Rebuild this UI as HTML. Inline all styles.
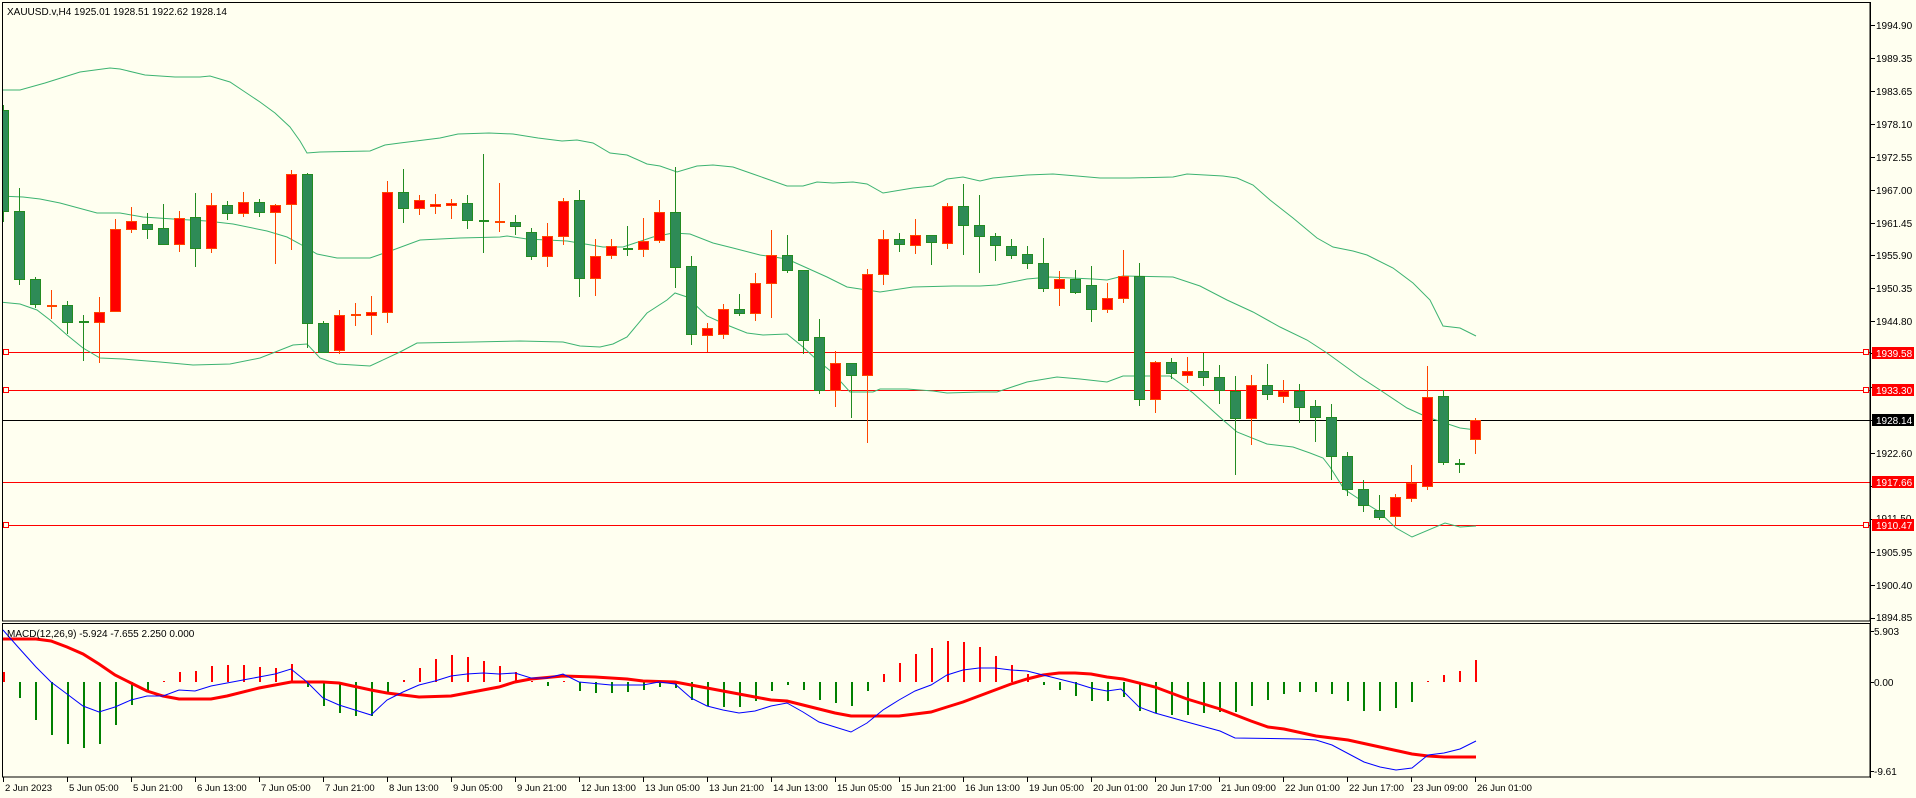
<!DOCTYPE html>
<html><head><meta charset="utf-8">
<style>
html,body{margin:0;padding:0;background:#fffff0;}
svg{display:block;}
text{font-family:"Liberation Sans",Arial,sans-serif;font-size:10px;fill:#000;}
</style></head>
<body>
<svg id="s" width="1916" height="798" viewBox="0 0 1916 798" xmlns="http://www.w3.org/2000/svg" shape-rendering="crispEdges">
<rect x="0" y="0" width="1916" height="798" fill="#fffff0"/>
<defs>
<clipPath id="cm"><rect x="2" y="3" width="1868" height="618"/></clipPath>
<clipPath id="cd"><rect x="2" y="623" width="1868" height="154"/></clipPath>
</defs>
<g id="main" clip-path="url(#cm)"></g>
<g id="macd" clip-path="url(#cd)"></g>
<!-- frames -->
<rect x="2.5" y="2.5" width="1867.5" height="618.5" fill="none" stroke="#000" stroke-width="1"/>
<rect x="2.5" y="623.5" width="1867.5" height="153.5" fill="none" stroke="#000" stroke-width="1"/>
<g id="axis"></g>
<text x="7" y="15">XAUUSD.v,H4  1925.01 1928.51 1922.62 1928.14</text>
<text x="7" y="637">MACD(12,26,9) -5.924 -7.655 2.250 0.000</text>
<!-- price labels -->
<g>
<text x="1876" y="29">1994.90</text>
<text x="1876" y="62">1989.35</text>
<text x="1876" y="95">1983.65</text>
<text x="1876" y="128">1978.10</text>
<text x="1876" y="161">1972.55</text>
<text x="1876" y="194">1967.00</text>
<text x="1876" y="227">1961.45</text>
<text x="1876" y="259">1955.90</text>
<text x="1876" y="292">1950.35</text>
<text x="1876" y="325">1944.80</text>
<text x="1876" y="457">1922.60</text>
<text x="1876" y="522">1911.50</text>
<text x="1876" y="556">1905.95</text>
<text x="1876" y="589">1900.40</text>
<text x="1876" y="621">1894.85</text>
<text x="1874" y="635">5.903</text>
<text x="1874" y="686">0.00</text>
<text x="1874" y="775">-9.61</text>
</g>
<g>
<rect x="1872" y="347" width="42" height="12" fill="#ff0000"/><text x="1876" y="357" style="fill:#fff">1939.58</text>
<rect x="1872" y="384" width="42" height="12" fill="#ff0000"/><text x="1876" y="394" style="fill:#fff">1933.30</text>
<rect x="1872" y="414" width="42" height="12" fill="#000"/><text x="1876" y="424" style="fill:#fff">1928.14</text>
<rect x="1872" y="476" width="42" height="12" fill="#ff0000"/><text x="1876" y="486" style="fill:#fff">1917.66</text>
<rect x="1872" y="519" width="42" height="12" fill="#ff0000"/><text x="1876" y="529" style="fill:#fff">1910.47</text>
</g>
<g font-size="9.5">
<text x="5" y="791" style="font-size:9.5px">2 Jun 2023</text>
<text x="69" y="791" style="font-size:9.5px">5 Jun 05:00</text>
<text x="133" y="791" style="font-size:9.5px">5 Jun 21:00</text>
<text x="197" y="791" style="font-size:9.5px">6 Jun 13:00</text>
<text x="261" y="791" style="font-size:9.5px">7 Jun 05:00</text>
<text x="325" y="791" style="font-size:9.5px">7 Jun 21:00</text>
<text x="389" y="791" style="font-size:9.5px">8 Jun 13:00</text>
<text x="453" y="791" style="font-size:9.5px">9 Jun 05:00</text>
<text x="517" y="791" style="font-size:9.5px">9 Jun 21:00</text>
<text x="581" y="791" style="font-size:9.5px">12 Jun 13:00</text>
<text x="645" y="791" style="font-size:9.5px">13 Jun 05:00</text>
<text x="709" y="791" style="font-size:9.5px">13 Jun 21:00</text>
<text x="773" y="791" style="font-size:9.5px">14 Jun 13:00</text>
<text x="837" y="791" style="font-size:9.5px">15 Jun 05:00</text>
<text x="901" y="791" style="font-size:9.5px">15 Jun 21:00</text>
<text x="965" y="791" style="font-size:9.5px">16 Jun 13:00</text>
<text x="1029" y="791" style="font-size:9.5px">19 Jun 05:00</text>
<text x="1093" y="791" style="font-size:9.5px">20 Jun 01:00</text>
<text x="1157" y="791" style="font-size:9.5px">20 Jun 17:00</text>
<text x="1221" y="791" style="font-size:9.5px">21 Jun 09:00</text>
<text x="1285" y="791" style="font-size:9.5px">22 Jun 01:00</text>
<text x="1349" y="791" style="font-size:9.5px">22 Jun 17:00</text>
<text x="1413" y="791" style="font-size:9.5px">23 Jun 09:00</text>
<text x="1477" y="791" style="font-size:9.5px">26 Jun 01:00</text>
</g>
</svg>
<script>
(function(){
var NS="http://www.w3.org/2000/svg";
function el(p,n,a){var e=document.createElementNS(NS,n);for(var k in a)e.setAttribute(k,a[k]);p.appendChild(e);return e;}
var M=document.getElementById('main'),D=document.getElementById('macd'),A=document.getElementById('axis');
function pl(p,pts,c,w){el(p,'polyline',{points:pts.map(function(q){return q[0]+','+q[1]}).join(' '),fill:'none',stroke:c,'stroke-width':w,'shape-rendering':'auto'});}
var up=[[3,90],[20,90],[45,83],[80,72],[110,68],[120,69],[145,75],[175,77],[200,77],[210,76],[230,82],[245,92],[260,102],[275,113],[290,127],[300,141],[307,153],[320,152],[370,151],[385,145],[400,143],[440,138],[458,134],[489,133],[513,134],[538,138],[562,141],[577,140],[593,143],[610,153],[627,155],[647,164],[660,166],[677,172],[697,166],[713,165],[733,167],[753,174],[787,186],[803,186],[817,182],[833,183],[853,182],[867,184],[883,193],[913,188],[933,186],[947,179],[963,177],[980,181],[993,178],[1027,175],[1053,174],[1077,176],[1100,178],[1130,178],[1173,177],[1187,174],[1223,176],[1237,178],[1253,185],[1270,200],[1293,218],[1317,238],[1333,247],[1353,251],[1367,255],[1393,268],[1413,283],[1430,300],[1443,326],[1460,328],[1476,336]];
var mid=[[0,196],[23,197],[40,199],[60,203],[97,213],[120,213],[143,217],[173,219],[207,221],[233,224],[267,231],[287,237],[300,244],[317,254],[337,258],[370,258],[393,250],[420,240],[460,238],[500,237],[507,236],[527,239],[567,241],[603,247],[623,247],[653,237],[673,233],[690,234],[713,243],[733,248],[760,255],[787,259],[807,268],[827,277],[847,287],[880,292],[913,287],[953,286],[980,286],[997,285],[1027,279],[1050,277],[1093,279],[1107,280],[1123,276],[1173,277],[1200,286],[1227,300],[1253,312],[1280,327],[1307,340],[1327,353],[1360,377],[1380,390],[1407,408],[1427,417],[1460,428],[1476,430]];
var lo=[[0,302],[20,304],[37,310],[50,320],[67,335],[83,348],[100,358],[123,359],[160,362],[193,365],[230,364],[260,358],[293,345],[307,344],[320,358],[337,364],[370,366],[400,352],[417,343],[473,342],[520,341],[563,342],[580,346],[600,347],[613,344],[627,337],[647,313],[667,300],[675,293],[687,297],[707,316],[727,325],[747,333],[763,335],[787,334],[803,347],[817,360],[833,373],[850,392],[873,392],[880,389],[907,389],[933,391],[947,393],[980,392],[997,392],[1027,382],[1057,377],[1080,379],[1107,382],[1123,376],[1170,376],[1193,393],[1223,420],[1237,432],[1267,444],[1293,447],[1310,453],[1323,458],[1330,467],[1344,489],[1362,501],[1378,511],[1396,528],[1412,537],[1445,523],[1460,527],[1476,526]];
// horizontal lines
[[352,'#ff0000',1],[390,'#ff0000',1],[482,'#ff0000',0],[525,'#ff0000',1]].forEach(function(h){
 el(M,'line',{x1:2,x2:1870,y1:h[0]+.5,y2:h[0]+.5,stroke:h[1],'stroke-width':1});
 if(h[2]){el(M,'rect',{x:3.5,y:h[0]-2.5,width:5,height:5,fill:'#fffff0',stroke:'#ff0000'});
 el(M,'rect',{x:1863.5,y:h[0]-2.5,width:5,height:5,fill:'#fffff0',stroke:'#ff0000'});}
});
el(M,'line',{x1:2,x2:1870,y1:420.5,y2:420.5,stroke:'#000','stroke-width':1});
pl(M,up,'#3cb371',1);pl(M,mid,'#3cb371',1);pl(M,lo,'#3cb371',1);
var C=[[0,'g',110,211,105,221],[1,'g',211,279,188,284],[2,'g',279,304,277,307],[3,'r',306,306,290,318],[4,'g',305,322,301,333],[5,'g',322,322,315,360],[6,'r',312,322,297,362],[7,'r',229,311,219,311],[8,'r',221,229,207,232],[9,'g',224,229,213,238],[10,'g',228,244,204,244],[11,'r',218,244,211,251],[12,'g',217,248,193,266],[13,'r',205,248,193,252],[14,'g',205,213,201,219],[15,'r',202,213,192,216],[16,'g',202,212,199,216],[17,'r',205,212,204,263],[18,'r',174,204,170,249],[19,'g',174,323,173,347],[20,'g',323,352,321,352],[21,'r',315,350,310,353],[22,'r',315,315,303,325],[23,'r',312,315,296,334],[24,'r',192,312,181,322],[25,'g',192,208,169,222],[26,'r',200,208,195,214],[27,'r',204,206,194,213],[28,'r',203,205,199,218],[29,'g',203,220,195,228],[30,'g',221,221,154,252],[31,'r',222,222,183,231],[32,'g',222,226,215,234],[33,'g',232,256,228,259],[34,'r',236,256,223,266],[35,'r',201,236,198,244],[36,'g',200,278,190,296],[37,'r',256,278,239,295],[38,'r',246,255,239,258],[39,'g',249,249,226,255],[40,'r',241,249,218,256],[41,'r',212,240,200,242],[42,'g',212,267,167,287],[43,'g',266,334,256,344],[44,'r',328,335,323,351],[45,'r',309,334,304,338],[46,'g',309,313,294,315],[47,'r',283,313,273,320],[48,'r',255,283,230,317],[49,'g',255,270,235,272],[50,'g',270,340,270,353],[51,'g',337,390,319,393],[52,'r',363,390,351,406],[53,'g',363,375,363,417],[54,'r',274,375,269,442],[55,'r',239,274,230,284],[56,'g',239,244,233,251],[57,'r',235,245,219,253],[58,'g',235,242,235,264],[59,'r',206,243,203,248],[60,'g',206,225,184,254],[61,'g',225,236,195,272],[62,'g',236,245,233,260],[63,'g',246,255,239,258],[64,'g',254,263,246,268],[65,'g',263,288,238,291],[66,'r',279,288,271,305],[67,'g',279,292,270,293],[68,'g',285,309,266,321],[69,'r',298,309,283,312],[70,'r',276,298,250,302],[71,'g',276,399,263,405],[72,'r',362,399,361,412],[73,'g',362,373,358,378],[74,'r',371,375,357,382],[75,'g',371,377,353,385],[76,'g',377,390,365,403],[77,'g',391,418,376,474],[78,'r',385,418,375,444],[79,'g',385,394,364,399],[80,'r',391,396,380,402],[81,'g',391,407,384,422],[82,'g',406,417,400,441],[83,'g',417,456,404,479],[84,'g',456,489,452,495],[85,'g',489,505,480,511],[86,'g',510,517,495,519],[87,'r',497,516,494,525],[88,'r',483,498,465,501],[89,'r',397,486,366,489],[90,'g',396,462,390,464],[91,'g',464,465,459,472],[92,'r',420,439,418,453]];
C.forEach(function(c){
 var x=3+16*c[0],g=c[1]=='g',wc=g?'#228b22':'#ff4500',fc=g?'#2e8b57':'#ff0000';
 el(M,'line',{x1:x+.5,x2:x+.5,y1:c[4],y2:c[5]+1,stroke:wc,'stroke-width':1});
 if(c[3]-c[2]<2){el(M,'rect',{x:x-4,y:c[2]-1,width:10,height:2,fill:wc});}
 else el(M,'rect',{x:x-4.5,y:c[2]+.5,width:10,height:c[3]-c[2],fill:fc,stroke:wc,'stroke-width':1});
});
// MACD histogram
var H=[672,698,720,735,744,748,744,725,705,691,681,672,671,666,665,665,667,668,664,687,706,713,716,716,694,680,668,659,655,657,661,666,672,681,686,681,691,693,693,692,690,687,688,700,706,707,707,701,691,685,690,700,703,706,691,674,663,654,648,641,642,647,656,665,674,685,690,696,701,701,697,711,713,715,715,713,712,712,706,700,694,692,692,694,701,711,711,708,702,681,675,671,660];
H.forEach(function(v,k){var x=3+16*k;var red=v<682;
 var y1=Math.min(v,682),h=Math.max(Math.abs(v-682),1);
 el(D,'rect',{x:x,y:y1,width:2,height:h,fill:red?'#ff0000':'#008000'});});
var sig=[[3,639],[36,639],[51,641],[67,647],[83,654],[99,664],[115,675],[131,683],[147,691],[163,696],[179,699],[211,699],[227,696],[259,688],[291,682],[323,682],[339,683],[371,690],[387,693],[403,695],[419,697],[451,696],[467,693],[499,687],[515,682],[531,679],[563,676],[595,677],[627,679],[643,681],[675,682],[691,685],[707,688],[723,691],[755,697],[771,700],[787,701],[803,705],[819,709],[835,713],[851,716],[899,716],[931,712],[947,707],[963,702],[979,696],[995,690],[1011,684],[1027,679],[1043,675],[1059,673],[1075,673],[1091,674],[1107,677],[1123,679],[1155,687],[1187,699],[1220,709],[1251,721],[1268,727],[1284,729],[1316,736],[1348,740],[1380,747],[1412,754],[1428,756],[1444,757],[1476,757]];
var mac=[[3,630],[18,647],[36,667],[51,682],[67,694],[83,706],[99,712],[115,707],[131,700],[147,696],[163,696],[179,690],[195,691],[211,686],[227,683],[243,680],[259,677],[275,674],[291,669],[307,682],[323,698],[339,705],[355,710],[371,715],[387,700],[403,692],[419,685],[435,681],[451,676],[467,674],[483,673],[499,674],[515,673],[531,678],[547,678],[563,674],[579,682],[611,685],[643,685],[659,682],[675,684],[691,698],[707,706],[723,710],[739,713],[755,711],[771,706],[787,703],[803,712],[819,722],[835,727],[851,732],[867,723],[883,710],[899,700],[915,691],[931,685],[947,675],[963,670],[979,668],[995,668],[1011,670],[1027,671],[1043,675],[1059,679],[1075,683],[1091,688],[1107,691],[1121,689],[1139,707],[1155,713],[1187,722],[1220,731],[1235,738],[1300,739],[1316,740],[1332,745],[1364,762],[1380,767],[1396,770],[1412,768],[1428,755],[1444,753],[1460,749],[1476,741]];
pl(D,sig,'#ff0000',3);pl(D,mac,'#0000ff',1);
// axis
el(A,'line',{x1:1870.5,x2:1870.5,y1:2,y2:778,stroke:'#000'});
[25,58,91,124,157,190,223,255,288,321,353,387,420,453,486,519,552,585,618].forEach(function(y){el(A,'line',{x1:1870,x2:1875,y1:y+.5,y2:y+.5,stroke:'#000'});});
[631,682,771].forEach(function(y){el(A,'line',{x1:1870,x2:1874,y1:y+.5,y2:y+.5,stroke:'#000'});});
for(var j=0;j<24;j++){var x=3+64*j;el(A,'line',{x1:x+.5,x2:x+.5,y1:777,y2:782,stroke:'#000'});}
})();
</script>
</body></html>
